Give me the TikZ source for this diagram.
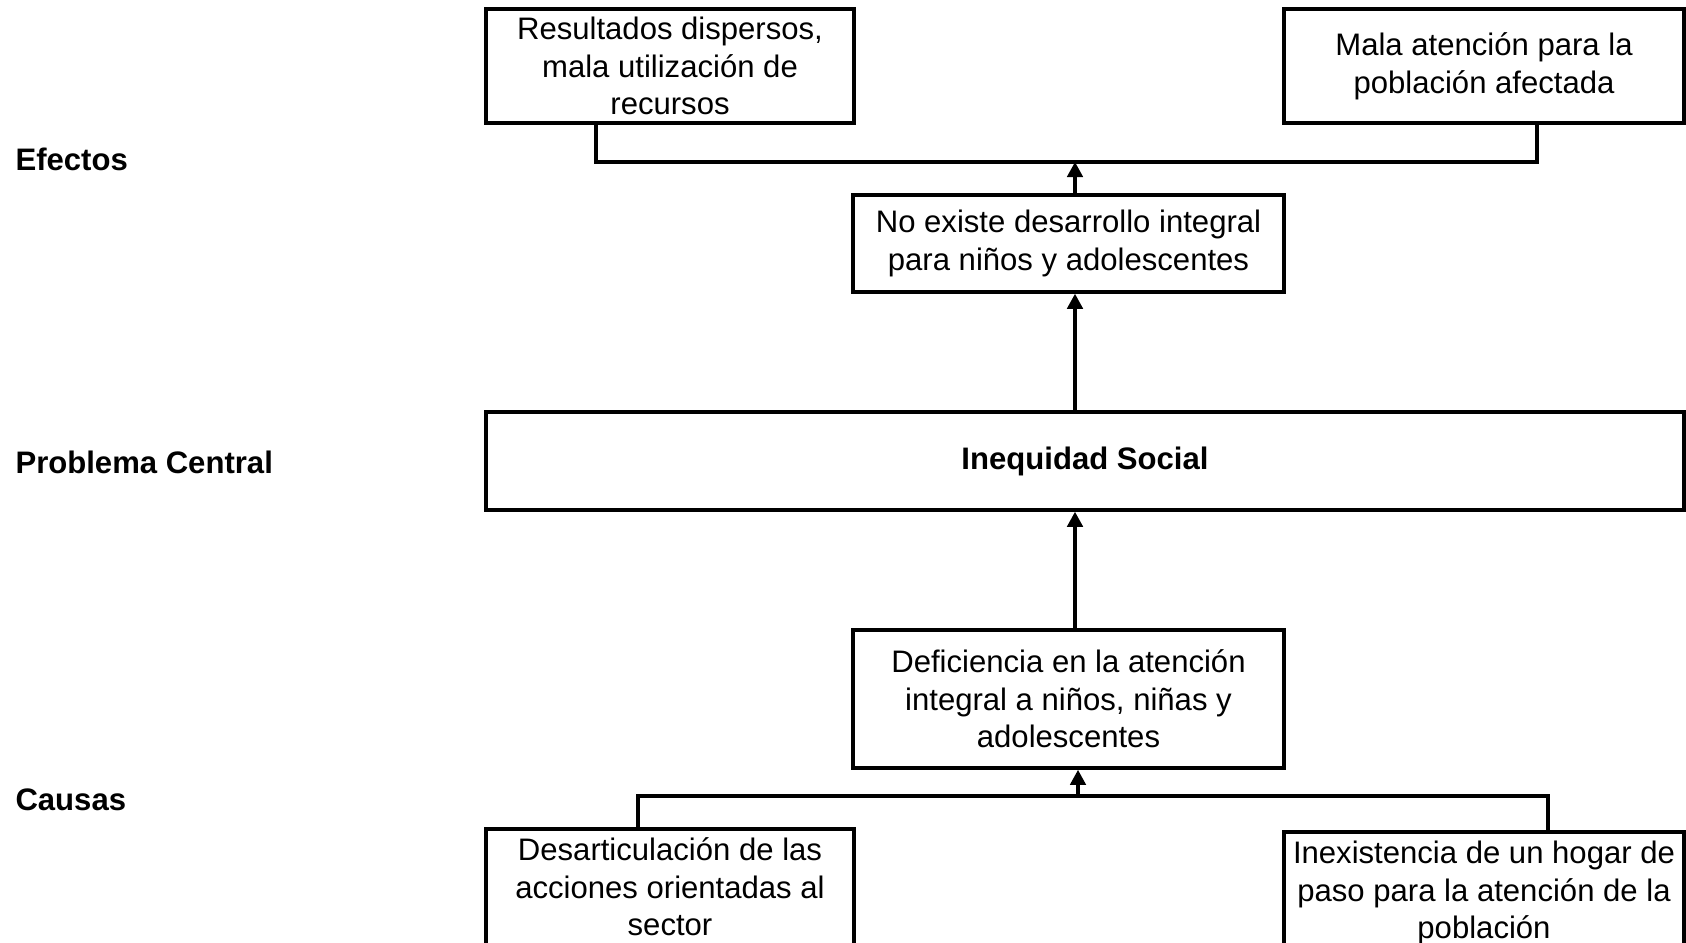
\documentclass[tikz,border=0pt]{standalone}
\usepackage{fontspec}
\setmainfont{Liberation Sans}
\usepackage{tikz}
\usetikzlibrary{arrows.meta,positioning,calc}
\tikzset{%
  arrow/.style={-{Triangle[length=5.8pt,width=6pt]}, line width=1.2pt}%
}

\begin{document}
\begin{tikzpicture}[
    x=0.386pt, y=-0.386pt,
    font=\fontsize{12}{14.5}\selectfont,
    box/.style={
        draw,
        line width=1.4pt,
        align=center,
        inner sep=2pt,
        minimum width=142pt,
        minimum height=44pt
    },
    midbox/.style={
        box,
        minimum width=166.4pt
    },
    sidelabel/.style={anchor=west, inner sep=0pt, font=\fontsize{12}{14.5}\selectfont\bfseries},
    line/.style={line width=1.2pt}
]
\useasboundingbox (0,0) rectangle (1686,942);

% Side labels
\node[sidelabel] (efectos) at (15,159) {Efectos};
\node[sidelabel] (problema) at (15,462) {Problema Central};
\node[sidelabel] (causas) at (15,800) {Causas};

% Nodes
\node[box] (dispersos) at (670,66) {Resultados dispersos,\\mala utilización de\\recursos};
\node[box, minimum width=154.4pt] (malaatencion) at (1484,66) {Mala atención para la\\población afectada};
\node[midbox, minimum height=37.4pt] (desarrollo) at (1068.5,243.5) {No existe desarrollo integral\\para niños y adolescentes};
\node[box, minimum width=462.4pt, minimum height=37.8pt, font=\fontsize{12}{14.5}\selectfont\bfseries] (inequidad) at (1085,461) {Inequidad Social};
\node[midbox, minimum height=53.3pt] (deficiencia) at (1068.5,699) {Deficiencia en la atención\\integral a niños, niñas y\\adolescentes};
\node[box, minimum height=44.8pt] (desarticulacion) at (670,887) {Desarticulación de las\\acciones orientadas al\\sector};
\node[box, minimum width=154.4pt, minimum height=44.8pt, text depth=0pt] (hogar) at (1484,890) {Inexistencia de un hogar de\\paso para la atención de la\\población};

% Brackets
\coordinate (efL) at (596,162);
\coordinate (efM) at (1075,162);
\coordinate (efR) at (1537,162);
\coordinate (caL) at (638,796);
\coordinate (caM) at (1078,796);
\coordinate (caR) at (1548,796);

\draw[line] (dispersos.south -| efL) -- (efL) -- (efR) -- (malaatencion.south -| efR);
\draw[line] (desarticulacion.north -| caL) -- (caL) -- (caR) -- (hogar.north -| caR);

% Arrows
\draw[arrow] (desarrollo.north -| efM) -- (efM);
\draw[arrow] (inequidad.north -| efM) -- (desarrollo.south -| efM);
\draw[arrow] (deficiencia.north -| efM) -- (inequidad.south -| efM);
\draw[arrow] (caM) -- (deficiencia.south -| caM);

\end{tikzpicture}
\end{document}
